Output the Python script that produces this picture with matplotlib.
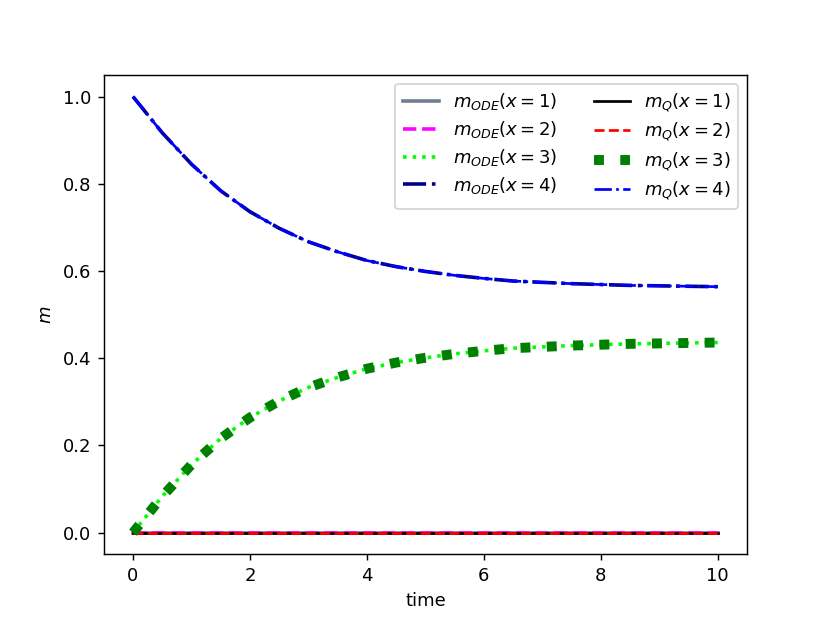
import numpy as np
import matplotlib
matplotlib.use("Agg")
import matplotlib.pyplot as plt

time = [0.0, 0.5, 1.0, 1.5, 2.0, 2.5, 3.0, 3.5, 4.0, 4.5, 5.0,
        5.5, 6.0, 6.5, 7.0, 7.5, 8.0, 8.5, 9.0, 9.5, 10.0]

m_x1 = [0.0] * 21
m_x2 = [0.0] * 21
m_x3 = [0.0, 0.083, 0.156, 0.216, 0.264, 0.302, 0.333, 0.356, 0.376, 0.390, 0.401,
        0.410, 0.417, 0.423, 0.426, 0.429, 0.431, 0.433, 0.434, 0.435, 0.436]
m_x4 = [1.0, 0.917, 0.845, 0.784, 0.736, 0.698, 0.667, 0.644, 0.624, 0.610, 0.599,
        0.590, 0.583, 0.577, 0.574, 0.571, 0.569, 0.567, 0.566, 0.565, 0.564]

fig, ax = plt.subplots(figsize=(830 / 130, 623 / 130), dpi=130)

ax.plot(time, m_x1, color='slategray', lw=2, ls='-', label=r'$m_{ODE}(x=1)$')
ax.plot(time, m_x2, color='magenta', lw=2, ls='--', label=r'$m_{ODE}(x=2)$')
ax.plot(time, m_x3, color='lime', lw=2, ls=':', label=r'$m_{ODE}(x=3)$')
ax.plot(time, m_x4, color='darkblue', lw=2, ls='-.', label=r'$m_{ODE}(x=4)$')

ax.plot(time, m_x1, color='black', lw=1.5, ls='-', label=r'$m_Q(x=1)$')
ax.plot(time, m_x2, color='red', lw=1.5, ls='--', label=r'$m_Q(x=2)$')
ax.plot(time, m_x3, color='green', lw=5.5, ls=':', label=r'$m_Q(x=3)$')
ax.plot(time, m_x4, color='blue', lw=1.5, ls='-.', label=r'$m_Q(x=4)$')

ax.set_xlabel('time')
ax.set_ylabel(r'$m$')
ax.legend(ncol=2, loc='upper right', labelspacing=0.38)

fig.savefig('out.png', dpi=130)
